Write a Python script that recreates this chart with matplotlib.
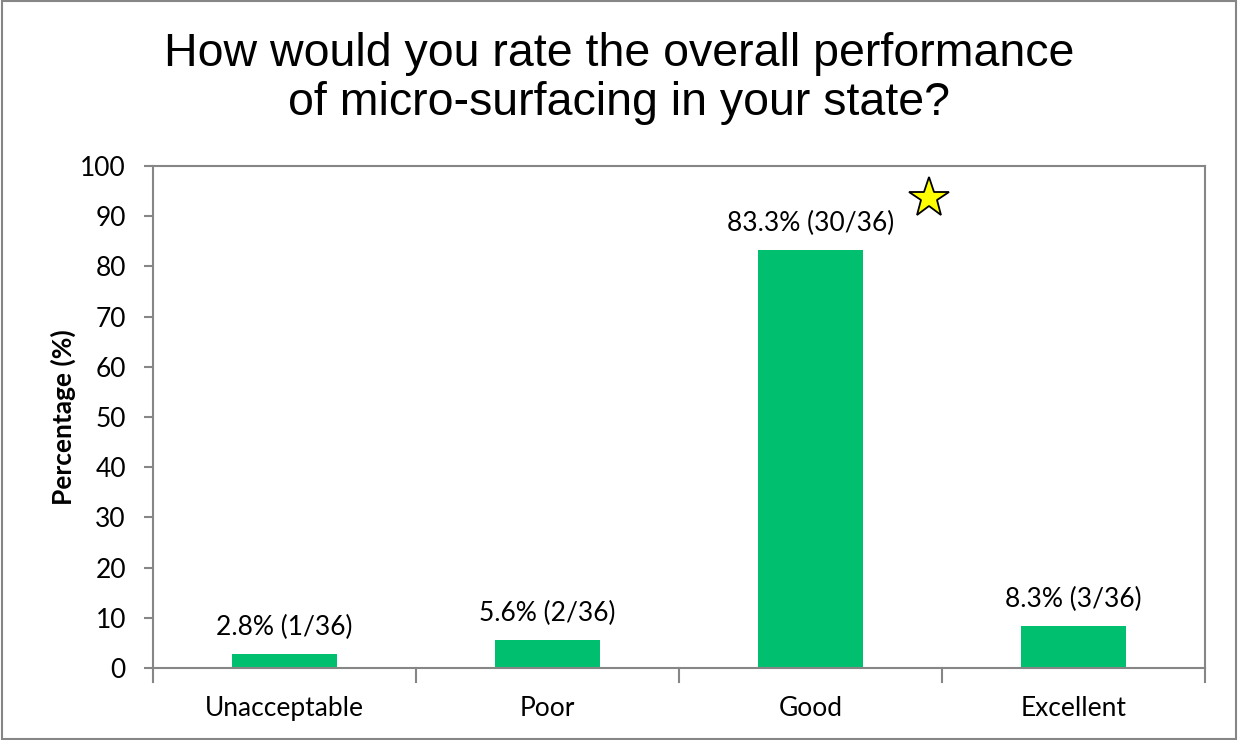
import matplotlib
matplotlib.use("Agg")
import matplotlib.pyplot as plt
from matplotlib.patches import Rectangle

# Survey responses
categories = ["Unacceptable", "Poor", "Good", "Excellent"]
percentages = [2.8, 5.6, 83.3, 8.3]
counts = [1, 2, 30, 3]
total = 36
y_ticks = [0, 10, 20, 30, 40, 50, 60, 70, 80, 90, 100]
star_position = (2.45, 93.6)

title = "How would you rate the overall performance\nof micro-surfacing in your state?"

AXIS_GRAY = "#868686"
BAR_GREEN = "#00BF6F"
BODY_FONT = ["Lato", "DejaVu Sans"]
TITLE_FONT = ["Liberation Sans", "DejaVu Sans"]

fig = plt.figure(figsize=(12.38, 7.40), dpi=100)
fig.patch.set_facecolor("white")
# outer frame of the chart
fig.add_artist(Rectangle((0.0015, 0.001), 0.997, 0.998, transform=fig.transFigure,
                         fill=False, edgecolor=AXIS_GRAY, linewidth=1.5))

ax = fig.add_axes([0.1236, 0.0973, 0.8497, 0.6784])
x = range(len(categories))
ax.bar(x, percentages, width=0.4, color=BAR_GREEN, zorder=2)

for xi, p, c in zip(x, percentages, counts):
    ax.annotate(f"{p}% ({c}/{total})", xy=(xi, p), xytext=(0, 10),
                textcoords="offset points", ha="center", va="bottom",
                fontsize=19, family=BODY_FONT, color="black")

ax.plot(*star_position, marker="*", markersize=30, markerfacecolor="#FFFF00",
        markeredgecolor="black", markeredgewidth=1.3, clip_on=False, zorder=3)

ax.set_xlim(-0.5, len(categories) - 0.5)
ax.set_ylim(0, 100)
ax.set_yticks(y_ticks)
ax.set_yticklabels([str(t) for t in y_ticks], family=BODY_FONT, fontsize=19)
ax.set_xticks(list(x))
ax.set_xticklabels(categories, family=BODY_FONT, fontsize=19)
ax.tick_params(axis="x", length=0, pad=20)
ax.tick_params(axis="y", length=6.5, width=1.5, color=AXIS_GRAY, pad=13)

# category boundary ticks below the x axis
for b in [i - 0.5 for i in range(len(categories) + 1)]:
    ax.plot([b, b], [0, -2.8], color=AXIS_GRAY, linewidth=1.5, clip_on=False, zorder=1)

for side in ["left", "right", "top", "bottom"]:
    ax.spines[side].set_color(AXIS_GRAY)
    ax.spines[side].set_linewidth(1.5)

ax.set_ylabel("Percentage (%)", family=BODY_FONT, fontsize=19, fontweight="bold", labelpad=3)

fig.text(0.5, 0.894, title, ha="center", va="center", fontsize=33.5, family=TITLE_FONT,
         linespacing=1.15)

fig.savefig("out.png", dpi=100)
